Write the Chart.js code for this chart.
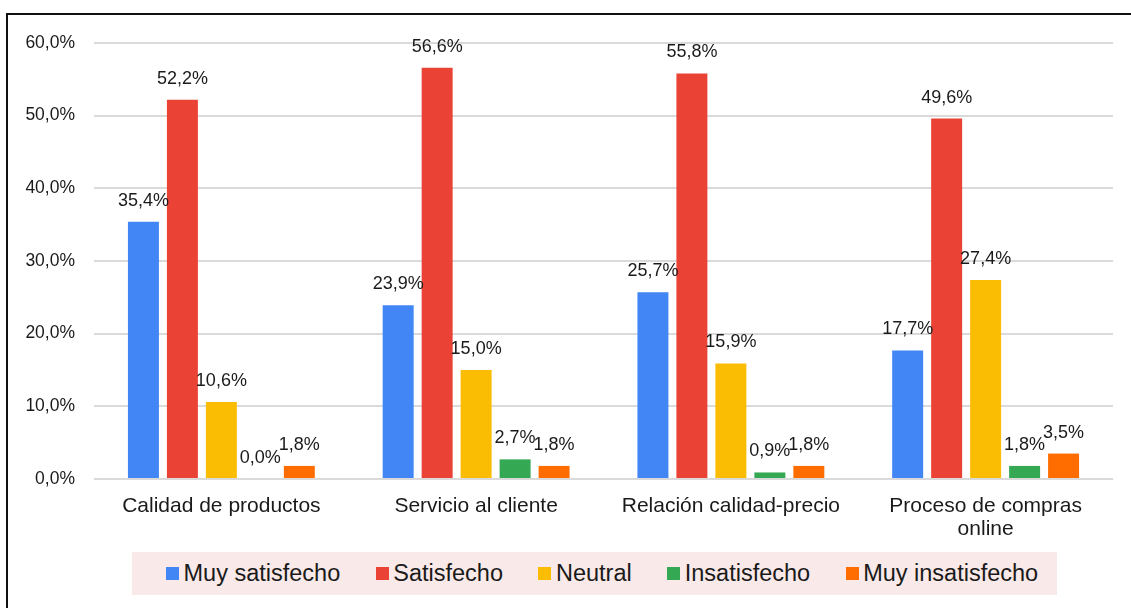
<!DOCTYPE html>
<html lang="es">
<head>
<meta charset="utf-8">
<title>Nivel de satisfacción</title>
<script src="https://cdn.jsdelivr.net/npm/chart.js@4/dist/chart.umd.min.js"></script>
<style>
  html, body { margin: 0; padding: 0; background: #fff; overflow: hidden; }
  #wrap { position: relative; width: 1131px; height: 608px; }
  #frame {
    position: absolute; left: 6px; top: 13px; width: 1200px; height: 700px;
    border-top: 2px solid #111; border-left: 2px solid #111;
  }
  canvas { position: absolute; left: 0; top: 0; }
  #legend {
    position: absolute; left: 132px; top: 552px; width: 925px; height: 43px;
    background: #f9e9e8; display: flex; align-items: center;
    padding-left: 34px; box-sizing: border-box;
    font-family: "Liberation Sans", Arial, sans-serif; font-size: 23.5px; color: #1a1a1a;
  }
  .item { display: flex; align-items: center; margin-right: 35.5px; white-space: nowrap; }
  .sw { width: 13px; height: 13px; margin-right: 4.5px; }
</style>
</head>
<body>
<div id="wrap">
  <div id="frame"></div>
  <canvas id="chart" width="1131" height="608"></canvas>
  <div id="legend"></div>
</div>
<script>
// Aspectos evaluados
const categories = [
  'Calidad de productos',
  'Servicio al cliente',
  'Relación calidad-precio',
  ['Proceso de compras', 'online']
];

// Porcentaje de respuestas por nivel de satisfacción
const muySatisfecho   = [35.4, 23.9, 25.7, 17.7];
const satisfecho      = [52.2, 56.6, 55.8, 49.6];
const neutral         = [10.6, 15.0, 15.9, 27.4];
const insatisfecho    = [0.0, 2.7, 0.9, 1.8];
const muyInsatisfecho = [1.8, 1.8, 1.8, 3.5];

const seriesNames  = ['Muy satisfecho', 'Satisfecho', 'Neutral', 'Insatisfecho', 'Muy insatisfecho'];
const seriesValues = [muySatisfecho, satisfecho, neutral, insatisfecho, muyInsatisfecho];
const seriesColors = ['#4285f4', '#ea4335', '#fbbc04', '#34a853', '#ff6d01'];

const yTicks = [0, 10, 20, 30, 40, 50, 60];

const fmt = v => v.toFixed(1).replace('.', ',') + '%';
const FONT = '"Liberation Sans", Arial, sans-serif';

// Etiquetas de valor encima de cada barra
const valueLabels = {
  id: 'valueLabels',
  afterDatasetsDraw(chart) {
    const ctx = chart.ctx;
    ctx.save();
    ctx.font = '18px ' + FONT;
    ctx.fillStyle = '#1a1a1a';
    ctx.textAlign = 'center';
    ctx.textBaseline = 'middle';
    chart.data.datasets.forEach((ds, i) => {
      chart.getDatasetMeta(i).data.forEach((bar, j) => {
        ctx.fillText(fmt(ds.data[j]), bar.x, bar.y - 21);
      });
    });
    ctx.restore();
  }
};

new Chart(document.getElementById('chart'), {
  type: 'bar',
  data: {
    labels: categories,
    datasets: seriesNames.map((name, i) => ({
      label: name,
      data: seriesValues[i],
      backgroundColor: seriesColors[i],
      borderWidth: 0,
      categoryPercentage: 0.765,
      barPercentage: 0.795
    }))
  },
  options: {
    responsive: false,
    animation: false,
    layout: { padding: { left: 0, right: 18, top: 43, bottom: 0 } },
    plugins: { legend: { display: false }, tooltip: { enabled: false } },
    scales: {
      x: {
        grid: { display: false },
        border: { display: false },
        ticks: {
          color: '#1a1a1a',
          font: { family: FONT, size: 21, lineHeight: 1.1 },
          padding: 8,
          maxRotation: 0,
          autoSkip: false
        },
        afterFit(scale) { scale.height = 129; }
      },
      y: {
        min: 0,
        max: 60,
        afterBuildTicks(scale) { scale.ticks = yTicks.map(v => ({ value: v })); },
        grid: { color: '#dadada', lineWidth: 2, drawTicks: false },
        border: { display: false },
        ticks: {
          color: '#1a1a1a',
          font: { family: FONT, size: 17.5 },
          padding: 19,
          callback: v => fmt(v)
        },
        afterFit(scale) { scale.width = 94; }
      }
    }
  },
  plugins: [valueLabels]
});

// Leyenda
const legend = document.getElementById('legend');
seriesNames.forEach((name, i) => {
  const item = document.createElement('div');
  item.className = 'item';
  const sw = document.createElement('span');
  sw.className = 'sw';
  sw.style.background = seriesColors[i];
  const txt = document.createElement('span');
  txt.textContent = name;
  item.appendChild(sw);
  item.appendChild(txt);
  legend.appendChild(item);
});
</script>
</body>
</html>
